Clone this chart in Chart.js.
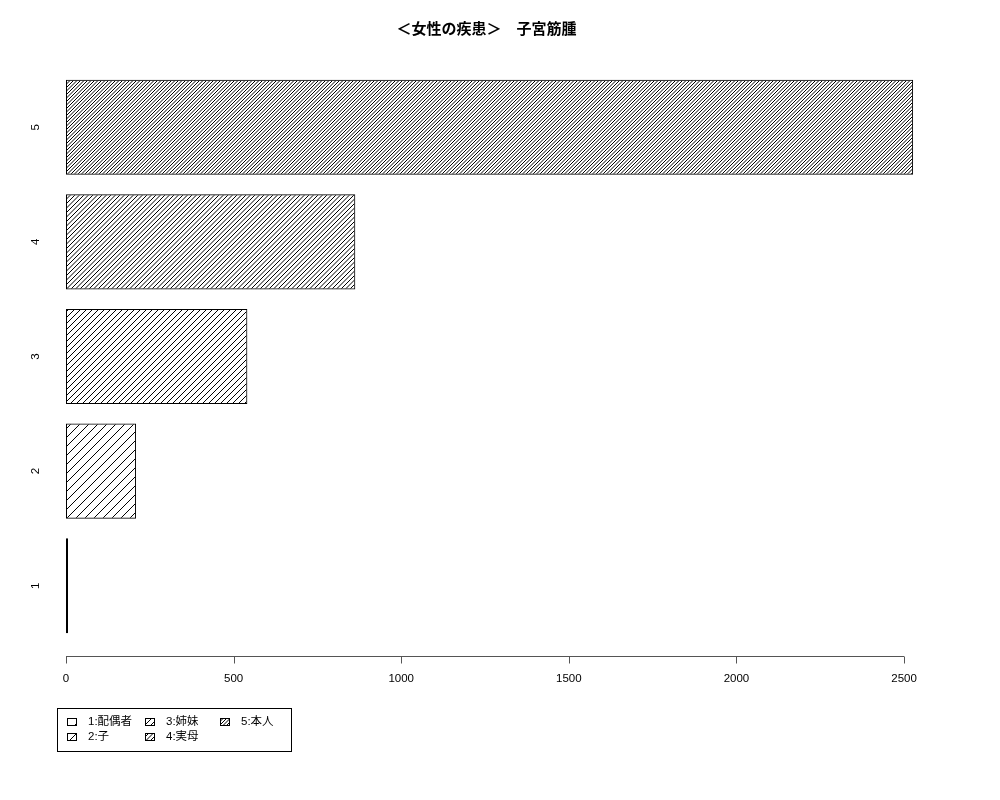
<!DOCTYPE html>
<html>
<head>
<meta charset="utf-8">
<script src="https://cdn.jsdelivr.net/npm/chart.js@4/dist/chart.umd.min.js"></script>
<style>
  html, body { margin: 0; padding: 0; background: #fff; }
  #wrap { width: 1000px; height: 800px; }
</style>
</head>
<body>
<div id="wrap"><canvas id="barChart" width="1000" height="800"></canvas></div>
<script>
// data
const categories = ['1', '2', '3', '4', '5'];
const legendNames = ['1:配偶者', '2:子', '3:姉妹', '4:実母', '5:本人'];
const counts = [6, 209, 541, 863, 2527];
const xTicks = [0, 500, 1000, 1500, 2000, 2500];
const hatchSpacing = [20, 9, 6, 4.5, 3.5];  // gap between hatch lines, px

const FONT = '"Liberation Sans", "Noto Sans CJK JP", sans-serif';

// diagonal hatch pattern, lines going "/"
function makeHatch(d) {
    const reps = Number.isInteger(d) ? 1 : 2;
    const size = Math.round(d * reps);
    const c = document.createElement('canvas');
    c.width = size; c.height = size;
    const g = c.getContext('2d');
    g.strokeStyle = '#000';
    g.lineWidth = 1;
    for (let s = 0; s <= 2 * size + 0.01; s += d) {
        g.beginPath();
        g.moveTo(s + 2, -2);
        g.lineTo(-2, s + 2);
        g.stroke();
    }
    return g.createPattern(c, 'repeat');
}

const ctx = document.getElementById('barChart').getContext('2d');
const patterns = hatchSpacing.map(makeHatch);

// x axis line stops at the last tick, like the original
const axisLine = {
    id: 'axisLine',
    afterDraw(chart) {
        const x = chart.scales.x;
        const c = chart.ctx;
        const y = Math.round(chart.chartArea.bottom + 13) + 0.5;
        c.save();
        c.strokeStyle = '#555';
        c.lineWidth = 1;
        c.beginPath();
        c.moveTo(x.getPixelForValue(xTicks[0]), y);
        c.lineTo(x.getPixelForValue(xTicks[xTicks.length - 1]), y);
        xTicks.forEach(function(v) {
            const px = Math.round(x.getPixelForValue(v)) + 0.5;
            c.moveTo(px, y);
            c.lineTo(px, y + 7);
        });
        c.stroke();
        c.restore();
    }
};

// boxed legend, filled column by column (2 rows)
const boxLegend = {
    id: 'boxLegend',
    afterDraw(chart) {
        const c = chart.ctx;
        const left = 57.5, top = 708.5, w = 234, h = 43;
        const colX = [67, 145, 220];
        const rowY = [722, 737];
        c.save();
        c.strokeStyle = '#000';
        c.lineWidth = 1;
        c.strokeRect(left, top, w, h);
        c.font = '11.5px ' + FONT;
        c.textBaseline = 'middle';
        legendNames.forEach(function(name, i) {
            const col = Math.floor(i / 2), row = i % 2;
            const sx = colX[col], sy = rowY[row];
            c.fillStyle = patterns[i];
            c.fillRect(sx, sy - 4, 10, 8);
            c.strokeRect(sx + 0.5, sy - 3.5, 9, 7);
            c.fillStyle = '#000';
            c.fillText(name, sx + 21, sy);
        });
        c.restore();
    }
};

new Chart(ctx, {
    type: 'bar',
    data: {
        labels: categories,
        datasets: [{
            data: counts,
            backgroundColor: patterns,
            borderColor: '#000',
            borderWidth: 1,
            borderSkipped: false,
            barPercentage: 0.83,
            categoryPercentage: 1
        }]
    },
    options: {
        indexAxis: 'y',
        responsive: false,
        animation: false,
        layout: { padding: { left: 20, right: 47, top: 0, bottom: 0 } },
        plugins: {
            legend: { display: false },
            tooltip: { enabled: false },
            title: {
                display: true,
                text: '＜女性の疾患＞　子宮筋腫',
                color: '#000',
                font: { family: FONT, size: 15, weight: 'bold' },
                padding: { top: 21, bottom: 31 }
            }
        },
        scales: {
            x: {
                min: 0,
                max: 2646,
                grid: { display: false, drawTicks: false },
                border: { display: false },
                afterBuildTicks: function(s) { s.ticks = xTicks.map(v => ({ value: v })); },
                afterFit: function(s) { s.height = 157; },
                ticks: {
                    color: '#000',
                    padding: 29,
                    font: { family: FONT, size: 11.5 },
                    callback: function(v) { return String(v); }
                }
            },
            y: {
                reverse: true,
                grid: { display: false, drawTicks: false },
                border: { display: false },
                afterFit: function(s) { s.width = 46; },
                ticks: {
                    color: '#000',
                    minRotation: 90,
                    maxRotation: 90,
                    crossAlign: 'center',
                    padding: 27,
                    font: { family: FONT, size: 11.5 }
                }
            }
        }
    },
    plugins: [axisLine, boxLegend]
});
</script>
</body>
</html>
